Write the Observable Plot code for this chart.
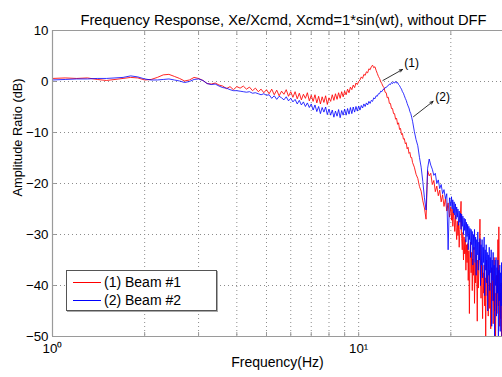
<!DOCTYPE html>
<html>
<head>
<meta charset="utf-8">
<script src="https://cdn.jsdelivr.net/npm/d3@7"></script>
<script src="https://cdn.jsdelivr.net/npm/@observablehq/plot@0.6"></script>
<style>
  html, body { margin: 0; padding: 0; background: #fff; }
  #wrap { position: relative; width: 502px; height: 377px; overflow: hidden; font-family: "Liberation Sans", Arial, sans-serif; }
  #legend { position: absolute; left: 66px; top: 270px; width: 149px; height: 39px; background: #fff;
            border: 1px solid #555; box-shadow: 1px 1px 0 #aaa; font-size: 14px; color: #000; }
  .lg-row { position: absolute; left: 0; height: 18px; width: 149px; }
  .lg-line { position: absolute; left: 6px; width: 28px; top: 9px; height: 0; border-top: 1px solid; }
  .lg-text { position: absolute; left: 37px; top: 0px; line-height: 18px; white-space: nowrap; }
</style>
</head>
<body>
<div id="wrap"></div>
<script>
// ---- data ----
const titleText = "Frequency Response, Xe/Xcmd, Xcmd=1*sin(wt), without DFF";
const xLabel = "Frequency(Hz)";
const yLabel = "Amplitude Ratio (dB)";
const seriesNames = ["(1) Beam #1", "(2) Beam #2"];
const seriesColors = ["#ff0000", "#0000ff"];

const freq = [
  1.0,1.1,1.2,1.3,1.4,1.5,1.6,1.7,1.8,1.9,2.0,2.1,2.2,2.3,2.4,2.5,2.6,2.7,2.8,2.9,3.0,
  3.1,3.2,3.3,3.4,3.5,3.6,3.7,3.8,3.9,4.0,
  4.1,4.2,4.3,4.4,4.5,4.6,4.7,4.8,4.9,5.0,
  5.1,5.2,5.3,5.4,5.5,5.6,5.7,5.8,5.9,6.0,
  6.1,6.2,6.3,6.4,6.5,6.6,6.7,6.8,6.9,7.0,
  7.1,7.2,7.3,7.4,7.5,7.6,7.7,7.8,7.9,8.0,
  8.1,8.2,8.3,8.4,8.5,8.6,8.7,8.8,8.9,9.0,
  9.1,9.2,9.3,9.4,9.5,9.6,9.7,9.8,9.9,10.0,
  10.1,10.2,10.3,10.4,10.5,10.6,10.7,10.8,10.9,11.0,
  11.1,11.2,11.3,11.4,11.5,11.6,11.7,11.8,11.9,12.0,
  12.1,12.2,12.3,12.4,12.5,12.6,12.7,12.8,12.9,13.0,
  13.1,13.2,13.3,13.4,13.5,13.6,13.7,13.8,13.9,14.0,
  14.1,14.2,14.3,14.4,14.5,14.6,14.7,14.8,14.9,15.0,
  15.2,15.4,15.6,15.8,16.0,16.2,16.4,16.6,16.8,17.0,
  17.2,17.4,17.6,17.8,18.0,18.2,18.4,18.6,18.8,19.0,
  19.2,19.4,19.6,19.8,
  20.0,20.1,20.2,20.3,20.4,20.5,20.6,20.7,20.8,20.9,
  21.0,21.1,21.2,21.3,21.4,21.5,21.6,21.7,21.8,21.9,
  22.0,22.1,22.2,22.3,22.4,22.5,22.6,22.7,22.8,22.9,
  23.0,23.1,23.2,23.3,23.4,23.5,23.6,23.7,23.8,23.9,
  24.0,24.1,24.2,24.3,24.4,24.5,24.6,24.7,24.8,24.9,
  25.0,25.1,25.2,25.3,25.4,25.5,25.6,25.7,25.8,25.9,
  26.0,26.1,26.2,26.3,26.4,26.5,26.6,26.7,26.8,26.9,
  27.0,27.1,27.2,27.3,27.4,27.5,27.6,27.7,27.8,27.9,
  28.0,28.1,28.2,28.3,28.4,28.5,28.6,28.7,28.8,28.9,
  29.0,29.1,29.2,29.3,29.4,29.5,29.6
];

const beam1 = [
  0.6,0.7,0.6,0.7,0.4,0.2,0.4,0.6,0.8,0.7,0.3,0.4,0.8,1.3,1.4,1.0,0.6,0.1,0.3,0.8,0.6,
  0.2,-0.4,-0.5,-0.3,-0.7,-0.9,-1.4,-1.0,-1.6,-1.0,
  -1.3,-0.9,-1.5,-1.1,-1.8,-1.3,-2.0,-1.5,-2.2,-1.6,
  -2.4,-1.5,-2.6,-1.7,-2.8,-1.9,-2.5,-1.6,-2.9,-2.0,
  -3.1,-2.0,-3.4,-2.3,-3.6,-2.5,-3.3,-2.2,-3.8,-2.7,
  -3.9,-2.6,-4.2,-2.9,-4.4,-3.0,-4.1,-2.8,-4.5,-3.2,
  -3.9,-2.6,-3.7,-2.4,-3.5,-2.2,-3.3,-2.0,-3.0,-1.9,
  -2.6,-1.5,-2.2,-1.1,-1.6,-0.7,-1.2,-0.3,-0.6,0.0,
  0.3,0.9,0.6,1.4,1.2,1.9,1.7,2.5,2.3,2.9,
  3.2,2.7,2.9,2.2,1.6,1.0,0.6,0.0,-0.4,-0.9,
  -1.2,-2.1,-2.2,-3.2,-3.1,-4.3,-4.3,-5.3,-5.3,-6.3,
  -6.3,-7.4,-7.2,-8.4,-8.1,-9.4,-9.2,-10.4,-10.2,-11.3,
  -11.2,-12.2,-12.0,-13.2,-12.9,-14.1,-13.9,-14.9,-14.9,-15.9,
  -16.8,-18.2,-19.0,-20.6,-21.5,-23.4,-24.8,-27.0,-17.5,-18.5,
  -18.0,-20.2,-19.4,-21.6,-20.5,-22.4,-21.3,-23.6,-22.2,-24.5,
  -23.0,-25.4,-23.8,-26.6,
  -24.6,-27.2,-25.0,-28.4,-25.6,-27.0,-29.4,-26.2,-28.6,-31.0,
  -27.4,-30.2,-28.0,-32.5,-29.0,-26.0,-23.5,-30.8,-33.0,-29.6,
  -35.0,-30.5,-33.8,-31.0,-37.0,-32.0,-35.5,-31.8,-39.0,-33.2,
  -45.5,-34.0,-31.5,-37.5,-33.5,-41.0,-34.8,-38.0,-32.5,-43.5,
  -35.5,-39.5,-34.0,-37.0,-47.0,-35.0,-40.5,-36.5,-33.0,-27.0,
  -38.0,-42.5,-36.0,-40.0,-46.5,-37.5,-41.5,-36.0,-44.0,-38.5,
  -50.5,-39.0,-35.0,-42.0,-38.0,-46.0,-40.5,-37.0,-44.5,-39.5,
  -48.5,-41.0,-36.5,-43.0,-39.0,-47.5,-40.0,-34.5,-45.0,-41.5,
  -51.0,-42.0,-38.0,-45.5,-40.5,-31.0,-44.0,-28.5,-43.0,-48.0,
  -41.5,-46.5,-39.5,-52.0,-42.5,-38.5,-46.0
];

const beam2 = [
  0.3,0.4,0.5,0.5,0.6,0.6,0.7,0.8,1.1,0.9,0.5,0.3,0.3,0.4,0.5,0.3,0.1,-0.2,0.0,0.4,0.5,
  0.2,-0.4,-0.6,-0.5,-0.9,-1.2,-1.3,-1.6,-1.8,-1.8,
  -1.9,-2.0,-2.1,-2.0,-2.3,-2.2,-2.4,-2.6,-2.4,-2.7,
  -2.6,-3.3,-2.8,-3.5,-2.9,-3.2,-3.6,-3.0,-3.8,-3.3,
  -4.0,-3.5,-4.4,-3.7,-4.6,-4.0,-4.9,-4.2,-5.1,-4.4,
  -5.6,-4.6,-5.9,-4.9,-6.3,-5.1,-6.0,-5.0,-6.5,-5.4,
  -6.6,-5.6,-7.0,-5.8,-6.8,-5.5,-7.1,-5.7,-6.6,-5.4,
  -6.6,-5.3,-6.4,-5.1,-6.3,-5.0,-6.0,-4.9,-5.8,-4.8,
  -5.6,-4.7,-5.2,-4.4,-4.9,-4.2,-4.6,-3.9,-4.3,-3.7,
  -3.9,-3.2,-3.4,-2.8,-2.9,-2.4,-2.4,-1.9,-2.0,-1.6,
  -1.5,-1.2,-1.2,-0.9,-0.8,-0.5,-0.6,-0.2,-0.4,-0.1,
  -0.3,0.0,-0.3,-0.2,-0.6,-0.8,-1.2,-1.5,-2.0,-2.3,
  -2.8,-3.3,-3.7,-4.3,-4.8,-5.2,-5.9,-6.3,-7.0,-7.8,
  -9.8,-11.4,-12.6,-14.9,-16.8,-19.6,-22.8,-25.2,-17.0,-15.2,
  -16.4,-17.2,-18.4,-18.0,-20.0,-19.3,-21.0,-20.2,-22.0,-21.2,
  -23.0,-22.0,-33.0,-22.8,
  -24.4,-22.6,-25.0,-23.2,-25.8,-23.6,-26.2,-24.0,-27.0,-24.6,
  -26.6,-25.0,-28.2,-25.4,-27.6,-25.8,-29.0,-26.0,-28.4,-26.4,
  -30.0,-26.8,-29.2,-27.0,-31.5,-27.6,-30.4,-28.0,-33.0,-28.4,
  -31.0,-28.8,-34.5,-29.0,-32.0,-29.4,-36.0,-30.0,-33.0,-29.0,
  -35.5,-30.5,-38.0,-31.0,-34.0,-29.5,-37.0,-31.5,-35.0,-30.8,
  -40.0,-32.0,-36.0,-31.0,-38.5,-32.5,-35.5,-30.5,-42.0,-33.0,
  -37.0,-32.0,-39.5,-33.5,-45.0,-34.0,-38.0,-32.5,-41.0,-34.5,
  -37.5,-33.0,-48.0,-35.0,-39.0,-33.5,-43.0,-36.0,-51.0,-35.0,
  -40.0,-34.5,-46.0,-36.5,-41.5,-35.0,-51.0,-37.0,-43.0,-36.0,
  -49.0,-37.5,-44.0,-35.5,-52.0,-38.0,-45.0
];

const xGridTicks = [2, 3, 4, 5, 6, 7, 8, 9, 10, 20];
const xLabelTicks = [1, 10];
const xLabelText = ["10\u2070", "10\u00B9"];
const yTicks = [-50, -40, -30, -20, -10, 0, 10];
const yGridTicks = [-40, -30, -20, -10, 0];
const xDomain = [1, 29.5];
const yDomain = [-50, 10];

// annotation "(1)" and "(2)" with arrows
const annoText = ["(1)", "(2)"];
const annoFreq = [14.9, 18.8];
const annoDb = [3.5, -3.1];
const arrowFromFreq = [12.0, 15.1];
const arrowFromDb = [0.2, -6.9];
const arrowToFreq = [13.9, 17.5];
const arrowToDb = [2.35, -3.9];

// ---- build tables ----
const rows = [];
[beam1, beam2].forEach((vals, s) => {
  vals.forEach((v, i) => rows.push({f: freq[i], db: v, s: seriesNames[s]}));
});
const annos = annoText.map((t, i) => ({t, f: annoFreq[i], db: annoDb[i]}));
const arrows = annoText.map((t, i) => ({x1: arrowFromFreq[i], y1: arrowFromDb[i], x2: arrowToFreq[i], y2: arrowToDb[i]}));

const axisGray = "#9a9a9a";
const gridStyle = {stroke: "#8c8c8c", strokeOpacity: 1, strokeDasharray: "1,3", strokeWidth: 1};

const chart = Plot.plot({
  width: 502,
  height: 377,
  marginTop: 30,
  marginBottom: 41,
  marginLeft: 52,
  marginRight: 0,
  style: {fontFamily: "'Liberation Sans', Arial, sans-serif", fontSize: "13.3px", color: "#000", background: "#fff", overflow: "visible"},
  x: {type: "log", domain: xDomain},
  y: {domain: yDomain},
  color: {domain: seriesNames, range: seriesColors},
  marks: [
    Plot.gridX(xGridTicks, gridStyle),
    Plot.gridY(yGridTicks, gridStyle),
    Plot.line(rows.filter(d => d.s === seriesNames[0]), {x: "f", y: "db", stroke: seriesColors[0], strokeWidth: 1, strokeOpacity: 0.85, clip: true}),
    Plot.line(rows.filter(d => d.s === seriesNames[1]), {x: "f", y: "db", stroke: seriesColors[1], strokeWidth: 1, strokeOpacity: 0.8, clip: true}),
    // axis lines
    Plot.ruleX([xDomain[0]], {stroke: axisGray, strokeWidth: 1.2}),
    Plot.ruleY(yDomain, {stroke: axisGray, strokeWidth: 1.2}),
    // inward ticks
    Plot.axisX(xGridTicks, {anchor: "bottom", tickSize: -4, tickFormat: () => "", stroke: axisGray, label: null}),
    Plot.axisX(xGridTicks, {anchor: "top", tickSize: -4, tickFormat: () => "", stroke: axisGray, label: null}),
    Plot.axisY(yGridTicks, {anchor: "left", tickSize: -4, tickFormat: () => "", stroke: axisGray, label: null}),
    // tick labels
    Plot.axisX(xLabelTicks, {anchor: "bottom", tickSize: 0, tickPadding: 7, tickFormat: (d) => xLabelText[xLabelTicks.indexOf(d)], fontSize: 13.3, label: null}),
    Plot.axisY(yTicks, {anchor: "left", tickSize: 0, tickPadding: 4, fontSize: 13.3, label: null}),
    // annotations
    Plot.arrow(arrows, {x1: "x1", y1: "y1", x2: "x2", y2: "y2", stroke: "#000", strokeWidth: 0.8, headLength: 6, headAngle: 45}),
    Plot.text(annos, {x: "f", y: "db", text: "t", fontSize: 12, fill: "#000"}),
    // titles
    Plot.text([titleText], {frameAnchor: "top", dx: 6, dy: -16, fontSize: 14.7, fill: "#000"}),
    Plot.text([xLabel], {frameAnchor: "bottom", dy: 30, fontSize: 14, fill: "#000"}),
    Plot.text([yLabel], {frameAnchor: "left", dx: -35, dy: 13, rotate: -90, fontSize: 12.8, fill: "#000"})
  ]
});

const wrap = document.getElementById("wrap");
wrap.appendChild(chart);

// legend (HTML overlay inside the axes)
const legend = document.createElement("div");
legend.id = "legend";
seriesNames.forEach((name, i) => {
  const row = document.createElement("div");
  row.className = "lg-row";
  row.style.top = (2 + i * 18) + "px";
  const ln = document.createElement("div");
  ln.className = "lg-line";
  ln.style.borderTopColor = seriesColors[i];
  const tx = document.createElement("div");
  tx.className = "lg-text";
  tx.textContent = name;
  row.appendChild(ln);
  row.appendChild(tx);
  legend.appendChild(row);
});
wrap.appendChild(legend);
</script>
</body>
</html>
